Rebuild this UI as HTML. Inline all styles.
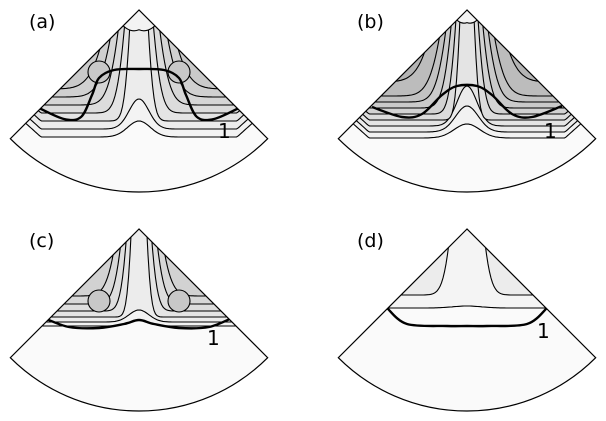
<!DOCTYPE html>
<html><head><meta charset="utf-8"><style>
html,body{margin:0;padding:0;background:#fff;}
svg{display:block;font-family:"DejaVu Sans","Liberation Sans",sans-serif;}
</style></head><body>
<svg id="fig" width="606" height="421" viewBox="0 0 606 421" xmlns="http://www.w3.org/2000/svg">
</svg>
<script>
// contour levels per panel: [valley depth, channel rise, channel half-width] (relative to apex)
const panelLabels = ["(a)","(b)","(c)","(d)"];
const apexX = [139,467,139,467];
const apexY = [10,10,229,229];
const levelsA = [[127,16,16],[119,30,14],[111,220,10],[103,220,15],[95,220,20],[87,220,25],[79,220,30]];
const levelsB = [[128,14,18],[122,26,16],[116,40,14],[110,220,8],[104,220,12],[98,220,16],[92,220,20],[86,220,24],[72,220,30]];
const levelsC = [[97,6,14],[93,12,14],[88,220,8],[82,220,12],[75,220,16],[67,220,20]];
const levelsD = [[79,2,20],[66,220,15]];
const shadesA = ["#f3f3f3","#ececec","#e4e4e4","#dcdcdc","#d6d6d6","#d0d0d0","#cacaca"];
const shadesB = ["#f2f2f2","#ebebeb","#e4e4e4","#dcdcdc","#d2d2d2","#cacaca","#c2c2c2","#bcbcbc","#b4b4b4"];
const shadesC = ["#f3f3f3","#ececec","#e4e4e4","#dedede","#d8d8d8","#d2d2d2"];
const shadesD = ["#f4f4f4","#ececec"];
// apex cap depth (light region at the apex), 0 = none
const capDepth = [22,14,0,0];
// thick "1" contour: [x, y] relative to apex
const lineA = [[-100,98],[-75,109],[-58,107],[-47,85],[-40,68],[-25,60],[0,59],[25,60],[40,68],[47,85],[58,107],[75,109],[100,98]];
const lineB = [[-95,97],[-65,107],[-45,104],[-25,85],[-10,76],[10,76],[25,85],[45,104],[65,107],[95,96]];
const lineC = [[-95,89],[-70,98],[-40,99],[-15,95],[0,91],[15,95],[40,99],[70,98],[95,88]];
const lineD = [[-80,79],[-60,95],[-20,97],[0,97],[20,97],[60,95],[80,79]];
const levels=[levelsA,levelsB,levelsC,levelsD], shades=[shadesA,shadesB,shadesC,shadesD], lines=[lineA,lineB,lineC,lineD];
const oneLabel=[[79,128],[77,128],[68,116],[70,109]];
const NS="http://www.w3.org/2000/svg", svg=document.getElementById('fig');
function mk(t,a,p){const e=document.createElementNS(NS,t);for(const k in a)e.setAttribute(k,a[k]);(p||svg).appendChild(e);return e;}
function smooth(P){let d='M'+P[0][0]+','+P[0][1];for(let i=0;i<P.length-1;i++){const p0=P[i-1]||P[i],p1=P[i],p2=P[i+1],p3=P[i+2]||P[i+1];
 d+=' C'+(p1[0]+(p2[0]-p0[0])/6)+','+(p1[1]+(p2[1]-p0[1])/6)+' '+(p2[0]-(p3[0]-p1[0])/6)+','+(p2[1]-(p3[1]-p1[1])/6)+' '+p2[0]+','+p2[1];}return d;}
const R=182;
for(let p=0;p<4;p++){
  const ax=apexX[p], ay=apexY[p], d=R/Math.SQRT2;
  const sector=`M${ax},${ay} L${ax-d},${ay+d} A${R},${R} 0 0 0 ${ax+d},${ay+d} Z`;
  const g=mk('g',{});
  
  
  const cp=mk('clipPath',{id:'cp'+p},g); mk('path',{d:sector},cp);
  const bg=mk('path',{d:sector,fill:'#fafafa',stroke:'none'},g);
  
  
  const cg=mk('g',{'clip-path':'url(#cp'+p+')'},g);
  levels[p].forEach((lv,i)=>{
    const [v,h,w]=lv; let pts=[];
    for(let x=-135;x<=135;x+=1.5){
      const ax2=Math.abs(x);
      const y=v-h*Math.exp(-Math.pow(ax2/w,2))-Math.max(0,ax2-98)*0.9;
      pts.push((ax+x).toFixed(1)+','+(ay+y).toFixed(1));
    }
    const path=mk('path',{d:'M'+(ax-140)+','+(ay-300)+' L'+pts.join(' L')+' L'+(ax+140)+','+(ay-300)+' Z',fill:shades[p][i],stroke:'#000','stroke-width':1.1},cg);
    
    
  });
  if(capDepth[p]>0){
    const c=capDepth[p];
    const cap=mk('path',{d:`M${ax-c*1.6},${ay-5} L${ax-c},${ay+c*0.4} Q${ax-c*0.5},${ay+c*1.1} ${ax},${ay+c*0.9} Q${ax+c*0.5},${ay+c*1.1} ${ax+c},${ay+c*0.4} L${ax+c*1.6},${ay-5} Z`,fill:'#f3f3f3',stroke:'#000','stroke-width':1.1},cg);
    
    
  }
  if(p===0||p===2){
    [-1,1].forEach(sg=>{
      const e=mk('ellipse',{cx:ax+sg*40,cy:ay+(p===0?62:72),rx:11,ry:11,fill:'#c8c8c8',stroke:'#000','stroke-width':1.1},cg);
      
      
    });
  }
  const tl=mk('path',{d:smooth(lines[p].map(q=>[ax+q[0],ay+q[1]])),fill:'none',stroke:'#000','stroke-width':2.4},cg);
  
  
  const ol=mk('path',{d:sector,fill:'none',stroke:'#000','stroke-width':1.2},g);
  
  
  const t=mk('text',{x:ax-110,y:ay+18,'font-size':19,fill:'#000'},g); t.textContent=panelLabels[p];
  
  
  const o=mk('text',{x:ax+oneLabel[p][0],y:ay+oneLabel[p][1],'font-size':20,fill:'#000'},g); o.textContent='1';
  
  
}
</script>
</body></html>
